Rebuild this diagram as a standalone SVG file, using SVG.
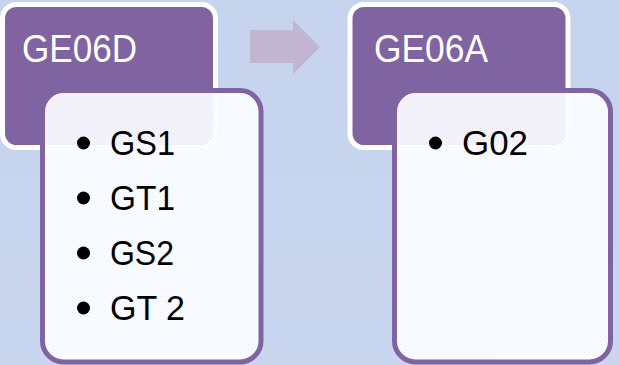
<svg xmlns="http://www.w3.org/2000/svg" width="619" height="365" viewBox="0 0 619 365">
  <defs>
    <linearGradient id="bg" x1="0" y1="0" x2="0" y2="1">
      <stop offset="0" stop-color="#c5d3ed"/>
      <stop offset="1" stop-color="#c9d6ee"/>
    </linearGradient>
    <pattern id="dots" width="4" height="4" patternUnits="userSpaceOnUse">
      <rect width="4" height="4" fill="#ffffff"/>
      <rect x="0" y="0" width="1" height="1" fill="#eceff6"/>
      <rect x="2" y="2" width="1" height="1" fill="#eceff6"/>
    </pattern>
    <style>
      .head { fill:#8064a2; stroke:#ffffff; stroke-width:5; }
      .body { fill:url(#dots); fill-opacity:0.93; stroke:#8064a2; stroke-width:5; }
      .htxt { font-family:"Liberation Sans", Arial, sans-serif; font-size:38px; fill:#ffffff; }
      .btxt { font-family:"Liberation Sans", Arial, sans-serif; font-size:35px; fill:#000000; }
      .dot { fill:#000000; }
    </style>
  </defs>
  <rect width="619" height="365" fill="url(#bg)"/>

  <g id="connectors">
    <polygon points="250,30 293,30 293,20 320,47 293,74 293,63 250,63" fill="#c0b6d2"/>
  </g>

  <g id="node-ge06d">
    <rect class="head" x="2.5" y="4.5" width="213" height="143" rx="14"/>
    <text class="htxt" x="22" y="62" textLength="115" lengthAdjust="spacingAndGlyphs">GE06D</text>
  </g>
  <g id="node-ge06d-list">
    <rect class="body" x="42.5" y="90.5" width="218.5" height="271.5" rx="21"/>
    <circle class="dot" cx="83.5" cy="143" r="6.5"/>
    <text class="btxt" x="110" y="155" textLength="65" lengthAdjust="spacingAndGlyphs">GS1</text>
    <circle class="dot" cx="83.5" cy="198" r="6.5"/>
    <text class="btxt" x="110" y="210" textLength="65" lengthAdjust="spacingAndGlyphs">GT1</text>
    <circle class="dot" cx="83.5" cy="253" r="6.5"/>
    <text class="btxt" x="110" y="265" textLength="64" lengthAdjust="spacingAndGlyphs">GS2</text>
    <circle class="dot" cx="83.5" cy="308" r="6.5"/>
    <text class="btxt" x="110" y="320" textLength="75" lengthAdjust="spacingAndGlyphs">GT 2</text>
  </g>

  <g id="node-ge06a">
    <rect class="head" x="350" y="4.5" width="218" height="143" rx="14"/>
    <text class="htxt" x="374" y="62" textLength="114" lengthAdjust="spacingAndGlyphs">GE06A</text>
  </g>
  <g id="node-ge06a-list">
    <rect class="body" x="394.5" y="90.5" width="216" height="271.5" rx="21"/>
    <circle class="dot" cx="435.5" cy="143" r="6.5"/>
    <text class="btxt" x="462" y="155" textLength="66" lengthAdjust="spacingAndGlyphs">G02</text>
  </g>
</svg>
